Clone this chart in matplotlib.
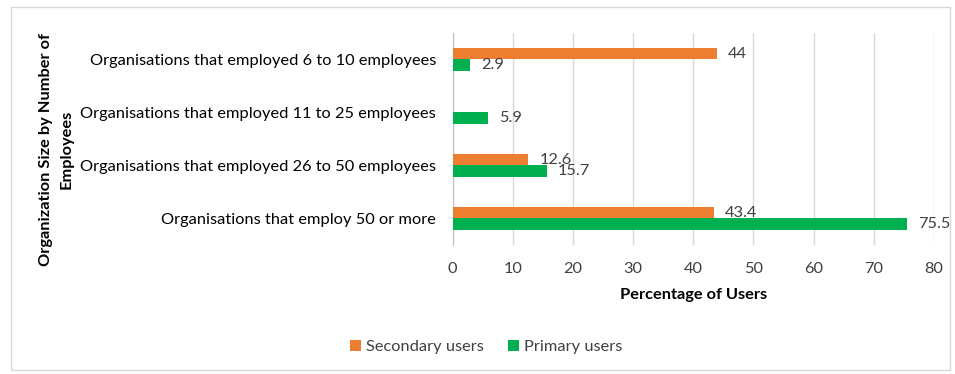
import matplotlib.pyplot as plt
import numpy as np

categories = ["Organisations that employed 6 to 10 employees",
              "Organisations that employed 11 to 25 employees",
              "Organisations that employed 26 to 50 employees",
              "Organisations that employ 50 or more"]
secondary = [44, 0, 12.6, 43.4]
primary = [2.9, 5.9, 15.7, 75.5]

plt.rcParams['font.family'] = ['Lato', 'DejaVu Sans']
text_col = '#404040'
fs = 11.8

fig = plt.figure(figsize=(9.55, 3.74), dpi=100)
ax = fig.add_axes([0.474, 0.345, 0.504, 0.567])

y = np.arange(len(categories))
h = 0.21
ax.barh(y - h/2, secondary, height=h, color='#ED7D31', label='Secondary users', zorder=3)
ax.barh(y + h/2, primary, height=h, color='#00B050', label='Primary users', zorder=3)

for i in range(len(categories)):
    if secondary[i] > 0:
        ax.text(secondary[i] + 1.8, y[i] - h/2, str(secondary[i]), va='center', ha='left',
                fontsize=fs, color=text_col)
    ax.text(primary[i] + 1.8, y[i] + h/2, str(primary[i]), va='center', ha='left',
            fontsize=fs, color=text_col)

ax.set_ylim(3.5, -0.5)
ax.set_xlim(0, 80)
ax.set_yticks(y)
ax.set_yticklabels(categories, fontsize=fs, color='black')
ax.set_xticks(range(0, 81, 10))
ax.tick_params(axis='x', labelsize=fs, labelcolor=text_col, length=0, pad=12)
ax.tick_params(axis='y', length=0, pad=12)
ax.grid(axis='x', color='#d9d9d9', linewidth=1, zorder=0)
for s in ['top', 'right', 'bottom']:
    ax.spines[s].set_visible(False)
ax.spines['left'].set_color('#bfbfbf')
ax.set_xlabel('Percentage of Users', fontsize=fs, fontweight='bold', color='black', labelpad=9)

fig.text(0.059, 0.6, 'Organization Size by Number of\nEmployees', rotation=90, ha='center', va='center',
         fontsize=fs, fontweight='bold', multialignment='center', linespacing=1.55)

ax.legend(loc='center', bbox_to_anchor=(0.509, 0.072), bbox_transform=fig.transFigure, ncol=2,
          frameon=False, fontsize=fs, handlelength=0.7, handleheight=0.7, handletextpad=0.3,
          columnspacing=1.45, labelcolor=text_col)

border = plt.Rectangle((0.011, 0.01), 0.984, 0.97, transform=fig.transFigure, fill=False,
                       edgecolor='#d9d9d9', linewidth=1)
fig.patches.append(border)

fig.savefig('out.png', dpi=100)
